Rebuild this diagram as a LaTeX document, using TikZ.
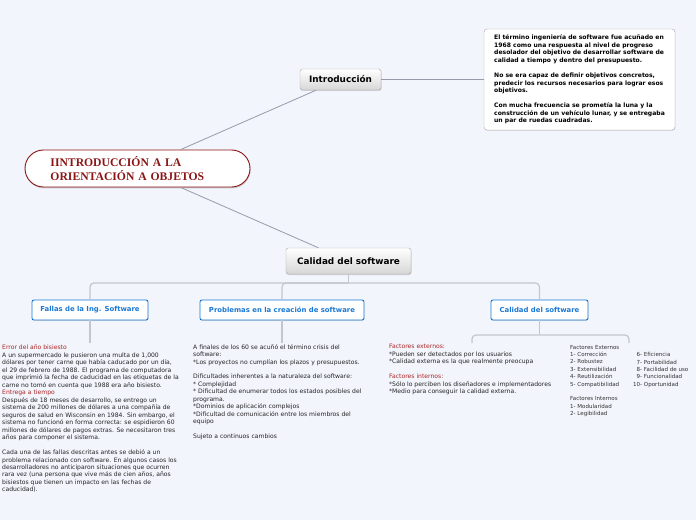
\documentclass[tikz,border=0pt]{standalone}
\usepackage{fontspec}
\setmainfont{DejaVu Sans}
\newfontfamily\rootfont{Liberation Serif}
\usepackage{tikz}
\usetikzlibrary{positioning,shadows}
\definecolor{bgc}{RGB}{242,245,252}
\definecolor{rootred}{RGB}{139,21,21}
\definecolor{linkgray}{RGB}{150,154,172}
\definecolor{brkgray}{RGB}{196,198,206}
\definecolor{lblue}{RGB}{26,120,212}
\definecolor{txtred}{RGB}{170,40,40}
\definecolor{boxgray}{RGB}{168,168,168}
\newcommand{\Rcol}[1]{\textcolor{txtred}{#1}}
\tikzset{
  rootbox/.style={draw=rootred, fill=white, line width=0.9bp, rounded corners=18.5bp,
      minimum width=225bp, minimum height=37bp, text width=174bp, inner xsep=25.5bp,
      align=left, text=rootred, font=\rootfont\bfseries\fontsize{11.7}{13.5}\selectfont,
      drop shadow={shadow xshift=0.6bp, shadow yshift=-1.4bp, opacity=0.35}},
  graybox/.style={draw=boxgray, rounded corners=2.5bp, top color=white, bottom color=gray!32,
      font=\bfseries\fontsize{8.9}{10}\selectfont, inner sep=0pt,
      drop shadow={shadow xshift=0.5bp, shadow yshift=-1bp, opacity=0.3}},
  bluebox/.style={draw=lblue, fill=white, line width=0.9bp, rounded corners=2bp,
      text=lblue, font=\bfseries\fontsize{6.9}{8}\selectfont, minimum height=20bp, inner sep=0pt,
      drop shadow={shadow xshift=0.4bp, shadow yshift=-0.8bp, opacity=0.25}},
  infobox/.style={draw=boxgray, fill=white, rounded corners=3bp, align=left,
      minimum width=191bp, minimum height=101bp, inner sep=0pt,
      font=\bfseries\fontsize{6.1}{7.6}\selectfont,
      drop shadow={shadow xshift=0.4bp, shadow yshift=-0.8bp, opacity=0.2}},
  ntxt/.style={anchor=north west, align=left, inner sep=0pt, text=black!85,
      font=\fontsize{6.1}{7.5}\selectfont},
  stxt/.style={anchor=north west, align=left, inner sep=0pt, text=black!80,
      font=\fontsize{5.55}{7.4}\selectfont},
  lnk/.style={linkgray, line width=0.8bp},
  brk/.style={brkgray, line width=1.2bp, rounded corners=4bp},
}
\begin{document}
\begin{tikzpicture}[x=1bp,y=-1bp]
  \fill[bgc] (0,0) rectangle (696,520);
  \useasboundingbox (0,0) rectangle (696,520);

  % main nodes
  \node[rootbox] (root) at (137.5,168.5) {IINTRODUCCIÓN A LA\\ORIENTACIÓN A OBJETOS};
  \node[graybox, minimum width=81bp, minimum height=21bp] (intro) at (340.5,79.5) {Introducción};
  \node[graybox, minimum width=125bp, minimum height=26bp] (calidad) at (348.5,261) {Calidad del software};
  \node[infobox] (info) at (579.5,79.5) {El término ingeniería de software fue acuñado en\\
    1968 como una respuesta al nivel de progreso\\
    desolador del objetivo de desarrollar software de\\
    calidad a tiempo y dentro del presupuesto.\\[7.6bp]
    No se era capaz de definir objetivos concretos,\\
    predecir los recursos necesarios para lograr esos\\
    objetivos.\\[7.6bp]
    Con mucha frecuencia se prometía la luna y la\\
    construcción de un vehículo lunar, y se entregaba\\
    un par de ruedas cuadradas.};

  % children of calidad
  \node[bluebox, minimum width=116bp] (fallas) at (90,310) {Fallas de la Ing. Software};
  \node[bluebox, minimum width=164bp] (probl) at (282,310) {Problemas en la creación de software};
  \node[bluebox, minimum width=97bp] (calsub) at (539.5,310) {Calidad del software};

  % text blocks
  \node[ntxt] (fallastxt) at (2,345) {\Rcol{Error del año bisiesto}\\
    A un supermercado le pusieron una multa de 1,000\\
    dólares por tener carne que había caducado por un día,\\
    el 29 de febrero de 1988. El programa de computadora\\
    que imprimió la fecha de caducidad en las etiquetas de la\\
    carne no tomó en cuenta que 1988 era año bisiesto.\\
    \Rcol{Entrega a tiempo}\\
    Después de 18 meses de desarrollo, se entrego un\\
    sistema de 200 millones de dólares a una compañía de\\
    seguros de salud en Wisconsin en 1984. Sin embargo, el\\
    sistema no funcionó en forma correcta: se espidieron 60\\
    millones de dólares de pagos extras. Se necesitaron tres\\
    años para componer el sistema.\\[7.5bp]
    Cada una de las fallas descritas antes se debió a un\\
    problema relacionado con software. En algunos casos los\\
    desarrolladores no anticiparon situaciones que ocurren\\
    rara vez (una persona que vive más de cien años, años\\
    bisiestos que tienen un impacto en las fechas de\\
    caducidad).};
  \node[ntxt] (probltxt) at (193,344) {A finales de los 60 se acuñó el término crisis del\\
    software:\\
    *Los proyectos no cumplían los plazos y presupuestos.\\[7.5bp]
    Dificultades inherentes a la naturaleza del software:\\
    * Complejidad\\
    * Dificultad de enumerar todos los estados posibles del\\
    programa.\\
    *Dominios de aplicación complejos\\
    *Dificultad de comunicación entre los miembros del\\
    equipo\\[7.5bp]
    Sujeto a continuos cambios};
  \node[ntxt] (exttxt) at (389,344) {\Rcol{Factores externos:}\\
    *Pueden ser detectados por los usuarios\\
    *Calidad externa es la que realmente preocupa\\[7.5bp]
    \Rcol{Factores internos:}\\
    *Sólo lo perciben los diseñadores e implementadores\\
    *Medio para conseguir la calidad externa.};
  \node[stxt] (listtxt) at (570,345) {Factores Externos\\
    1- Corrección\\ 2- Robustez\\ 3- Extensibilidad\\ 4- Reutilización\\ 5- Compatibilidad\\[7.4bp]
    Factores Internos\\ 1- Modularidad\\ 2- Legibilidad};
  \node[stxt] (listtxtb) at (633,352.4) {\hphantom{1}6- Eficiencia\\ \hphantom{1}7- Portabilidad\\
    \hphantom{1}8- Facilidad de uso\\ \hphantom{1}9- Funcionalidad\\ 10- Oportunidad};

  % connectors
  \draw[lnk] (root) -- (intro);
  \draw[lnk] (root) -- (calidad);
  \draw[lnk] (intro) -- (info);
  \coordinate (bar) at (348.5,283);
  \draw[brk] (calidad.south) -- (bar);
  \draw[brk] (fallas.north) |- (bar);
  \draw[brk] (calsub.north) |- (bar);
  \draw[brk] (probl.north) |- (bar);
  \draw[brk] (fallas.south) -- (fallas.south |- 0,343);
  \draw[brk] (probl.south) -- (probl.south |- 0,343);
  \coordinate (sbar) at (539.5,335);
  \coordinate (ja) at (472,343);
  \coordinate (jb) at (629,343);
  \draw[brk] (calsub.south) -- (sbar);
  \draw[brk] (ja) |- (sbar);
  \draw[brk] (jb) |- (sbar);
\end{tikzpicture}
\end{document}
